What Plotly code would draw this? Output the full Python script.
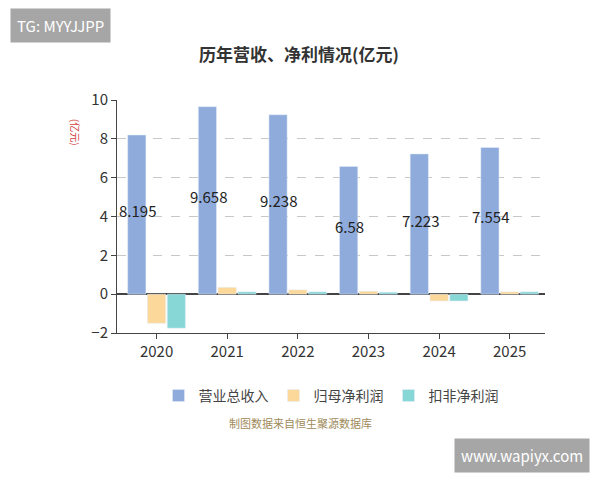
import plotly.graph_objects as go

# 数据
years = ["2020", "2021", "2022", "2023", "2024", "2025"]
revenue = [8.195, 9.658, 9.238, 6.58, 7.223, 7.554]
net_profit = [-1.5, 0.35, 0.22, 0.15, -0.35, 0.12]
net_profit_deducted = [-1.75, 0.12, 0.12, 0.1, -0.35, 0.12]

fig = go.Figure()
fig.add_trace(go.Bar(x=years, y=revenue, name="营业总收入", marker_color="#8eabdb"))
fig.add_trace(go.Bar(x=years, y=net_profit, name="归母净利润", marker_color="#fcd89a"))
fig.add_trace(go.Bar(x=years, y=net_profit_deducted, name="扣非净利润", marker_color="#88d7d7"))

# 数值标签（在柱子中部）
for i, v in enumerate(revenue):
    fig.add_annotation(x=i - 0.27, y=v / 2 + 0.2, text=str(v), showarrow=False,
                       font=dict(size=15, color="#222"), xref="x", yref="y")

# paper 坐标相对于绘图区；页面有 8px 的 body 边距，所以边距整体减 8
fig.add_annotation(text="(亿元)", x=-0.098, y=0.93, xref="paper", yref="paper", xanchor="center",
                   showarrow=False, textangle=90, font=dict(size=10, color="#d04040"))
fig.add_annotation(text="制图数据来自恒生聚源数据库", x=0.428, y=-0.43, xref="paper", yref="paper",
                   showarrow=False, font=dict(size=11, color="#a08a5a"))
fig.add_annotation(text="TG: MYYJJPP", x=-0.25, y=1.32, xref="paper", yref="paper",
                   xanchor="left", yanchor="middle", showarrow=False, bgcolor="#a6a6a6",
                   font=dict(size=15, color="white"), borderpad=6)
fig.add_annotation(text="www.wapiyx.com", x=1.105, y=-0.524, xref="paper", yref="paper",
                   xanchor="right", yanchor="middle", showarrow=False, bgcolor="#a6a6a6",
                   font=dict(size=15, color="white"), borderpad=6)

fig.update_layout(
    width=600, height=480,
    font=dict(family="Noto Sans CJK SC, Noto Sans", color="#333"),
    title=dict(text="<b>历年营收、净利情况(亿元)</b>", x=0.485, y=0.902, xanchor="center",
               yanchor="middle", yref="container", font=dict(size=17, color="#333")),
    paper_bgcolor="white", plot_bgcolor="white",
    margin=dict(l=109, r=63, t=92, b=155),
    barmode="group", bargap=0.16, bargroupgap=0.08,
    legend=dict(orientation="h", x=0.5, xanchor="center", y=-0.27, yanchor="middle",
                font=dict(size=14, color="#444")),
)
fig.update_xaxes(showline=True, linecolor="#444", ticks="outside", tickcolor="#444",
                 tickfont=dict(size=15))
fig.update_yaxes(range=[-2, 10], dtick=2, showgrid=True, gridcolor="#c8c8c8", griddash="dash",
                 zeroline=True, zerolinecolor="#444", showline=True, linecolor="#444",
                 ticks="outside", tickcolor="#444", tickfont=dict(size=15))

fig.write_html("out.html")
